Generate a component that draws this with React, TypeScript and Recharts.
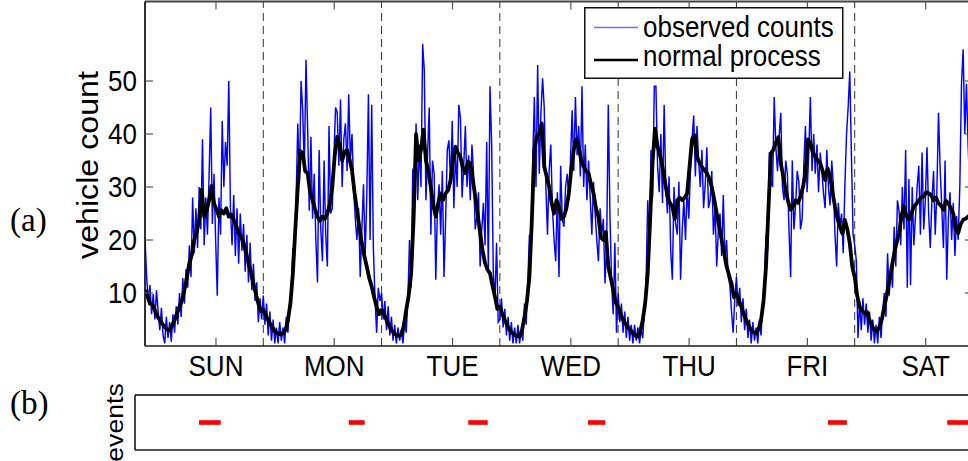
import React from 'react';
import { LineChart, Line, XAxis, YAxis, ReferenceLine, Legend } from 'recharts';

// ---- data -------------------------------------------------------------
// observed vehicle counts, three samples per hour (20-minute bins), one array per day
const sunObs = [20.5, 13, 8.5, 11.5, 6, 9.8, 5, 10.5, 6.5, 3, 7.2, 2, 0.5, 5.5, 1.5, 4.5, 0.8, 6, 2.5, 7.5, 4, 10, 5.5, 12.8, 8, 14.5, 11, 19, 13, 28, 17.5, 26, 18.5, 30, 22, 39, 19, 28, 21, 32, 45, 23, 32.5, 20, 9.5, 28, 21, 42.5, 30, 38.5, 34, 50, 26, 19, 28.5, 17, 26, 15.5, 25, 18, 23, 14, 21, 12, 19.5, 10.5, 15.5, 8.5, 12, 4.5, 9, 5];
const monObs = [9.5, 4, 8, 2, 6.5, 1, 5, 0.5, 3.5, 0.5, 4.5, 1, 3.5, 0.5, 5.5, 2.5, 8, 10.5, 18.5, 17, 28, 42, 31, 50, 44.5, 33, 54, 41, 25.5, 39.5, 24, 32.5, 20, 12, 37, 22, 16, 35, 21, 15, 41.5, 25, 26, 36, 45, 44, 34, 46.5, 30, 39, 42, 33, 47.5, 35, 40, 30, 24, 20, 26, 13, 22, 30.5, 17, 28, 47.5, 20, 45.5, 18.5, 9, 2.5, 11, 8.5];
const tueObs = [10, 5, 8.5, 3, 7.5, 2, 5.5, 1, 4, 0.5, 3.5, 1, 3, 0.5, 4.5, 2.5, 8.5, 20, 11, 33.5, 28, 42, 27.5, 38, 30, 57, 52, 27.5, 36, 45, 21, 35, 32.5, 12.5, 26, 30.5, 21, 33, 13, 24, 37, 38.8, 30.5, 42.5, 26, 36.5, 30, 45.5, 43, 28, 34, 41.5, 30, 36, 27.5, 38, 32.5, 22, 24.5, 29, 15, 22, 27, 19, 38.5, 14, 49, 38, 14, 8.5, 19.5, 4.5];
const wedObs = [5, 9, 3.5, 7, 2, 5.5, 1, 4.5, 0.5, 3.5, 0.5, 4, 0.5, 3, 1, 8, 4, 12, 21, 16, 35, 47, 30, 53, 32.5, 44, 50.5, 45, 30, 21, 33, 38, 26, 20, 16, 29, 13, 34, 24, 22.5, 30, 32.5, 27.5, 35, 44.5, 33, 47, 36, 41.5, 32, 49, 30, 38, 27.5, 35, 28, 21, 31, 25, 20, 16, 26, 21, 24, 11.8, 19, 45.5, 25, 12, 6, 19.5, 2.5];
const thuObs = [10, 4.5, 8, 2.5, 6.5, 1.5, 5.5, 1, 4, 0.5, 4, 1, 3.5, 0.5, 3, 1.5, 7, 12, 27.5, 19, 37, 28, 49, 49, 34, 29, 40, 27, 45.5, 30, 25, 32, 18, 12.5, 30, 23, 21, 31, 12.5, 22, 27.5, 20, 30, 24, 33, 39, 43.5, 32, 41.5, 35, 30, 37, 26, 30.5, 37.5, 26, 27.5, 33, 21, 26, 15, 22, 25, 17, 28.5, 16, 20, 13, 11.5, 6.5, 2.5, 9];
const friObs = [13, 7.5, 11, 4.5, 9, 3, 7, 1.5, 5, 0.5, 4.5, 1, 3.5, 0.5, 5, 2, 8, 11, 21, 18, 36.5, 31, 30, 47, 37.5, 33, 39.5, 44, 30, 27.5, 35, 32.5, 22, 13, 35, 22, 26.5, 33, 31, 22, 24, 34, 41.5, 29, 36, 47, 33, 40, 32.5, 38, 29, 36.5, 33, 28.8, 26, 37, 30, 26.5, 35, 30.5, 21, 15, 27, 22.5, 25, 17.5, 30, 39.8, 45, 51.8, 36, 21];
const satObs = [19, 16, 1.5, 8.5, 3, 9, 4, 8, 2.5, 6.5, 1, 5, 0.5, 4, 0.5, 5.5, 1.5, 6.5, 10, 5.5, 17.5, 9.5, 15, 11, 22.5, 15, 27.5, 25.5, 19, 30, 22, 37, 11, 31.5, 11.5, 30, 19, 24.5, 30, 34, 21, 36.5, 22, 27.5, 37.5, 25, 18.5, 27.5, 33, 21, 29, 44, 33.5, 26, 18.5, 35, 12.5, 24, 29, 20, 27, 17, 24.5, 20, 30.5, 49.5, 56, 40, 49.5, 38, 30, 34];

// normal (expected) process, two samples per hour, one array per day
const sunNorm = [10.6, 9.4, 8.0, 7.8, 6.8, 5.6, 4.9, 4.2, 3.6, 3.1, 3.0, 3.8, 4.9, 6.2, 7.4, 8.6, 10.6, 13.0, 15.6, 17.2, 20, 21.5, 23.8, 29.5, 24.4, 25.5, 27.5, 30.2, 26.9, 25.8, 24.4, 25.6, 25.0, 26.0, 24.4, 24.8, 23.8, 22.6, 21.3, 20.6, 19.4, 17.6, 15.6, 13.8, 11.8, 9.8, 8.0, 6.6];
const monNorm = [6.8, 5.8, 4.9, 4.0, 3.3, 2.6, 2.4, 2.2, 2.4, 3.0, 4.9, 8.0, 13.7, 22.0, 30.0, 36.8, 36.4, 33.0, 32.6, 29.0, 27.5, 25.8, 24.4, 23.6, 24.4, 24.0, 25.0, 26.8, 30.0, 36.0, 39.5, 37.8, 35.0, 36.6, 37.0, 35.2, 33.2, 29.0, 25.7, 22.4, 19.4, 17.0, 15.0, 12.8, 11.2, 9.2, 7.4, 6.0];
const tueNorm = [6.8, 5.9, 4.9, 3.8, 3.0, 2.4, 2.1, 1.9, 2.1, 3.8, 6.8, 9.5, 13.7, 24.0, 40.0, 35.0, 37.0, 40.8, 35.0, 33.0, 30.0, 26.5, 24.4, 27.0, 28.8, 27.6, 28.8, 29.4, 31.3, 35.0, 37.6, 36.4, 35.7, 33.6, 32.6, 34.8, 34.5, 31.5, 28.2, 24.8, 21.3, 18.0, 15.6, 14.4, 13.7, 11.4, 9.3, 7.0];
const wedNorm = [7.4, 6.0, 4.9, 3.9, 3.0, 2.5, 2.1, 1.9, 1.8, 3.0, 5.5, 8.5, 13.1, 24.0, 37.0, 39.5, 40.1, 42.0, 33.8, 32.0, 30.0, 27.0, 25.0, 27.5, 26.3, 24.0, 24.4, 26.0, 28.8, 33.5, 37.0, 39.0, 37.6, 35.0, 33.8, 33.0, 32.6, 30.5, 28.8, 26.0, 24.4, 20.5, 20.0, 21.5, 15.0, 12.8, 10.6, 8.2];
const thuNorm = [7.4, 6.0, 4.9, 4.2, 3.6, 3.0, 2.4, 2.0, 1.8, 2.8, 4.9, 8.2, 13.7, 24.0, 35.0, 41.0, 37.6, 36.0, 33.8, 31.0, 28.2, 27.0, 26.3, 24.0, 27.5, 28.0, 27.5, 28.0, 28.8, 34.0, 39.0, 39.8, 35.7, 34.6, 33.8, 33.2, 32.6, 31.6, 30.0, 27.6, 25.0, 22.4, 20.0, 17.5, 15.0, 13.4, 11.8, 9.2];
const friNorm = [9.9, 8.6, 7.4, 6.0, 4.9, 3.8, 3.0, 2.6, 2.4, 3.2, 4.9, 8.5, 15.0, 26.0, 36.4, 37.0, 38.4, 39.4, 34.5, 32.0, 29.4, 27.2, 25.7, 26.4, 27.5, 27.0, 28.2, 30.0, 32.6, 39.0, 38.2, 36.5, 35.7, 35.0, 34.5, 33.0, 31.3, 33.5, 32.0, 29.0, 26.3, 24.0, 22.5, 21.2, 23.8, 22.0, 19.4, 15.0];
const satNorm = [13.0, 9.5, 7.4, 6.6, 6.2, 6.4, 4.9, 3.8, 3.0, 2.8, 3.6, 5.0, 7.4, 9.6, 12.3, 14.8, 17.4, 19.5, 21.3, 24.6, 26.3, 24.5, 23.8, 25.0, 26.3, 26.8, 27.5, 28.0, 28.2, 29.0, 28.8, 28.5, 27.5, 28.0, 26.9, 26.5, 25.7, 27.4, 26.9, 26.0, 25.0, 22.0, 21.3, 23.0, 23.8, 24.0, 24.4, 24.8];

// detected events (start / end, hours since start of the week)
const eventStart = [10.96, 41.33, 65.59, 89.88, 138.57, 162.77];
const eventEnd = [15.36, 44.57, 69.53, 93.39, 142.42, 167.0];

// axes
const DAY_NAMES = ['SUN', 'MON', 'TUE', 'WED', 'THU', 'FRI', 'SAT'];
const dayTicks = [14.4, 38.4, 62.4, 86.4, 110.4, 134.4, 158.4];
const dayBounds = [24, 48, 72, 96, 120, 144];
const countTicks = [10, 20, 30, 40, 50];
const LEGEND_ORDER = ['observed counts', 'normal process'];

// ---- helpers ----------------------------------------------------------
const FONT = '"Liberation Sans", Arial, Helvetica, sans-serif';
const SERIF = '"Liberation Serif", "Times New Roman", serif';
const STRETCH = 1.11; // figure text is slightly taller than wide
const TICK_LEN = 8;
const AXIS_COLOR = '#1a1a1a';
const TICK_COLOR = '#555';

function toSeries(days: number[][], perHour: number) {
  const pts: { h: number; v: number }[] = [];
  days.forEach((vals, d) => {
    vals.forEach((v, k) => pts.push({ h: d * 24 + k / perHour, v }));
  });
  return pts;
}

const observed = toSeries([sunObs, monObs, tueObs, wedObs, thuObs, friObs, satObs], 3);
const normal = toSeries([sunNorm, monNorm, tueNorm, wedNorm, thuNorm, friNorm, satNorm], 2);

const BottomTick = (props: any) => {
  const { x, y, payload } = props;
  const idx = Math.round((payload.value - dayTicks[0]) / 24);
  return (
    <g>
      <line x1={x} y1={y} x2={x} y2={y - TICK_LEN} stroke={TICK_COLOR} strokeWidth={1.2} />
      <text
        transform={`translate(${x},${y + 29.5}) scale(1,${STRETCH})`}
        textAnchor="middle"
        fontFamily={FONT}
        fontSize={26}
        fill="#000"
      >
        {DAY_NAMES[idx]}
      </text>
    </g>
  );
};

const TopTick = (props: any) => {
  const { x, y } = props;
  return <line x1={x} y1={y} x2={x} y2={y + TICK_LEN} stroke={TICK_COLOR} strokeWidth={1.2} />;
};

const LeftTick = (props: any) => {
  const { x, y, payload } = props;
  return (
    <g>
      <line x1={x} y1={y} x2={x + TICK_LEN} y2={y} stroke={TICK_COLOR} strokeWidth={1.2} />
      <text
        transform={`translate(${x - 8},${y + 10.3}) scale(1,${STRETCH})`}
        textAnchor="end"
        fontFamily={FONT}
        fontSize={26}
        fill="#000"
      >
        {payload.value}
      </text>
    </g>
  );
};

const RightTick = (props: any) => {
  const { x, y } = props;
  return <line x1={x} y1={y} x2={x - TICK_LEN} y2={y} stroke={TICK_COLOR} strokeWidth={1.2} />;
};

const NoTick = () => <g />;

const LegendBox = (props: any) => {
  const entries = ((props.payload || []) as any[])
    .slice()
    .sort((a, b) => LEGEND_ORDER.indexOf(a.value) - LEGEND_ORDER.indexOf(b.value));
  const rowLine = [20.5, 53];
  const rowText = [29.7, 59.4];
  return (
    <svg width={262} height={74} style={{ display: 'block', overflow: 'visible' }}>
      <rect x={0.75} y={0.75} width={258} height={70.5} fill="#fff" stroke="#111" strokeWidth={1.5} />
      {entries.map((e, i) => (
        <g key={String(e.value)}>
          <line
            x1={10}
            x2={54}
            y1={rowLine[i]}
            y2={rowLine[i]}
            stroke={i === 0 ? '#6f6fff' : e.color}
            strokeWidth={i === 0 ? 1.4 : 2.4}
          />
          <text
            transform={`translate(59,${rowText[i]}) scale(1,${STRETCH})`}
            fontFamily={FONT}
            fontSize={26}
            fill="#000"
          >
            {e.value}
          </text>
        </g>
      ))}
    </svg>
  );
};

// ---- component --------------------------------------------------------
export default function App() {
  return (
    <div
      style={{
        position: 'absolute',
        left: 0,
        top: 0,
        width: 968,
        height: 461,
        overflow: 'hidden',
        background: '#fff',
      }}
    >
      {/* (a) counts panel */}
      <div style={{ position: 'absolute', left: 0, top: 0 }}>
        <LineChart width={1000} height={400} margin={{ top: 0.5, right: 26, bottom: 14, left: 85 }}>
          <XAxis
            xAxisId="bottom"
            type="number"
            dataKey="h"
            domain={[0, 168]}
            allowDataOverflow
            ticks={dayTicks}
            interval={0}
            height={40}
            tickSize={0}
            tickMargin={0}
            tickLine={false}
            axisLine={{ stroke: AXIS_COLOR, strokeWidth: 1.6 }}
            tick={<BottomTick />}
          />
          <XAxis
            xAxisId="top"
            orientation="top"
            type="number"
            dataKey="h"
            domain={[0, 168]}
            allowDataOverflow
            ticks={dayTicks}
            interval={0}
            height={1}
            tickSize={0}
            tickMargin={0}
            tickLine={false}
            axisLine={{ stroke: '#444', strokeWidth: 2 }}
            tick={<TopTick />}
          />
          <YAxis
            yAxisId="left"
            type="number"
            domain={[0, 65]}
            allowDataOverflow
            ticks={countTicks}
            interval={0}
            width={60}
            tickSize={0}
            tickMargin={0}
            tickLine={false}
            axisLine={{ stroke: AXIS_COLOR, strokeWidth: 1.8 }}
            tick={<LeftTick />}
          />
          <YAxis
            yAxisId="right"
            orientation="right"
            type="number"
            domain={[0, 65]}
            allowDataOverflow
            ticks={countTicks}
            interval={0}
            width={1}
            tickSize={0}
            tickMargin={0}
            tickLine={false}
            axisLine={{ stroke: AXIS_COLOR, strokeWidth: 1.6 }}
            tick={<RightTick />}
          />
          {dayBounds.map((b) => (
            <ReferenceLine
              key={b}
              x={b}
              xAxisId="bottom"
              yAxisId="left"
              stroke="#333"
              strokeWidth={1}
              strokeDasharray="8 5"
            />
          ))}
          <Line
            xAxisId="bottom"
            yAxisId="left"
            data={observed}
            dataKey="v"
            name="observed counts"
            stroke="#0000ff"
            strokeWidth={1.45}
            dot={false}
            activeDot={false}
            isAnimationActive={false}
          />
          <Line
            xAxisId="bottom"
            yAxisId="left"
            data={normal}
            dataKey="v"
            name="normal process"
            stroke="#000000"
            strokeWidth={3.8}
            strokeLinejoin="round"
            dot={false}
            activeDot={false}
            isAnimationActive={false}
          />
          <Legend
            layout="vertical"
            align="center"
            verticalAlign="middle"
            content={<LegendBox />}
            wrapperStyle={{ left: 584, top: 7, width: 262, height: 74 }}
          />
        </LineChart>
      </div>

      {/* (b) events panel */}
      <div style={{ position: 'absolute', left: 0, top: 380 }}>
        <LineChart width={1000} height={81} margin={{ top: 14, right: 16, bottom: 10, left: 134 }}>
          <XAxis
            xAxisId="bottom"
            type="number"
            dataKey="h"
            domain={[-2.03, 170.03]}
            allowDataOverflow
            height={1}
            tickLine={false}
            tick={<NoTick />}
            axisLine={{ stroke: AXIS_COLOR, strokeWidth: 1.6 }}
          />
          <XAxis
            xAxisId="top"
            orientation="top"
            type="number"
            dataKey="h"
            domain={[-2.03, 170.03]}
            allowDataOverflow
            height={1}
            tickLine={false}
            tick={<NoTick />}
            axisLine={{ stroke: '#444', strokeWidth: 2 }}
          />
          <YAxis
            yAxisId="left"
            type="number"
            domain={[0, 2]}
            width={1}
            tickLine={false}
            tick={<NoTick />}
            axisLine={{ stroke: AXIS_COLOR, strokeWidth: 1.6 }}
          />
          <YAxis
            yAxisId="right"
            orientation="right"
            type="number"
            domain={[0, 2]}
            width={1}
            tickLine={false}
            tick={<NoTick />}
            axisLine={{ stroke: AXIS_COLOR, strokeWidth: 1.6 }}
          />
          {eventStart.map((s, i) => (
            <Line
              key={i}
              xAxisId="bottom"
              yAxisId="left"
              data={[
                { h: s, v: 1 },
                { h: eventEnd[i], v: 1 },
              ]}
              dataKey="v"
              stroke="#ff0000"
              strokeWidth={4.6}
              strokeLinecap="butt"
              dot={false}
              activeDot={false}
              legendType="none"
              isAnimationActive={false}
            />
          ))}
        </LineChart>
      </div>

      {/* panel tags and axis titles */}
      <svg
        width={968}
        height={461}
        style={{ position: 'absolute', left: 0, top: 0, pointerEvents: 'none' }}
      >
        <text transform="translate(10,231) scale(1.07,1.1)" fontFamily={SERIF} fontSize={31} fill="#000">
          (a)
        </text>
        <text transform="translate(10,414) scale(1.07,1.1)" fontFamily={SERIF} fontSize={31} fill="#000">
          (b)
        </text>
        <text
          transform={`translate(98,165) rotate(-90) scale(${STRETCH},1)`}
          textAnchor="middle"
          fontFamily={FONT}
          fontSize={29}
          fill="#000"
        >
          vehicle count
        </text>
        <text
          transform={`translate(123,422.5) rotate(-90) scale(${STRETCH},1)`}
          textAnchor="middle"
          fontFamily={FONT}
          fontSize={24}
          fill="#000"
        >
          events
        </text>
      </svg>
    </div>
  );
}
